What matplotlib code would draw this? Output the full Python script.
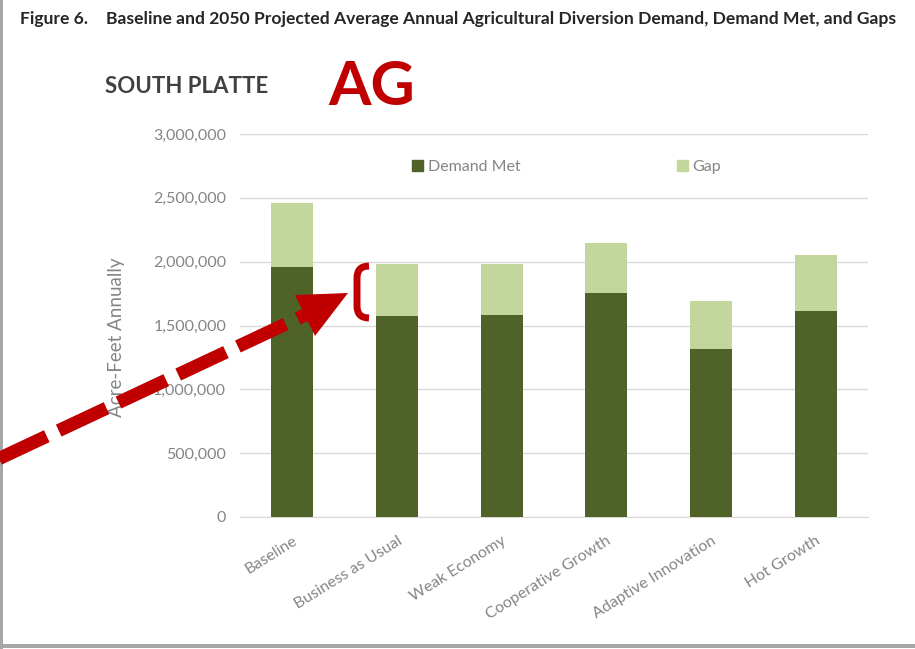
import matplotlib
matplotlib.use("Agg")
import matplotlib.pyplot as plt
from matplotlib.patches import Patch, Polygon, Rectangle, PathPatch
from matplotlib.lines import Line2D
from matplotlib.path import Path
from matplotlib.ticker import FuncFormatter
import numpy as np

plt.rcParams['font.family'] = ['Lato', 'DejaVu Sans']

categories = ["Baseline", "Business as Usual", "Weak Economy",
              "Cooperative Growth", "Adaptive Innovation", "Hot Growth"]
demand_met = [1960000, 1578000, 1580000, 1752000, 1316000, 1613000]
gap = [498000, 402000, 400000, 396000, 374000, 442000]
y_ticks = [0, 500000, 1000000, 1500000, 2000000, 2500000, 3000000]

DARK = "#4f6228"
LIGHT = "#c3d69b"
RED = "#c00000"
GREY_TXT = "#858585"
W, H = 915, 649


def fx(x):
    return x / W


def fy(y):
    return 1 - y / H


fig = plt.figure(figsize=(W / 100, H / 100), dpi=100)
ax = fig.add_axes([fx(240), fy(517), fx(868) - fx(240), fy(134) - fy(517)])

x = np.arange(len(categories))
ax.bar(x, demand_met, width=0.4, color=DARK, zorder=3)
ax.bar(x, gap, width=0.4, bottom=demand_met, color=LIGHT, zorder=3)

ax.set_xlim(-0.5, len(categories) - 0.5)
ax.set_ylim(0, 3000000)
ax.set_yticks(y_ticks)
ax.yaxis.set_major_formatter(FuncFormatter(lambda v, p: f"{int(v):,}"))
ax.grid(axis="y", color="#d9d9d9", linewidth=1, zorder=0)
for s in ["top", "right", "left"]:
    ax.spines[s].set_visible(False)
ax.spines["bottom"].set_color("#d9d9d9")
ax.tick_params(axis="y", length=0, pad=10, labelsize=11.5, labelcolor=GREY_TXT)
ax.tick_params(axis="x", length=0, pad=12, labelsize=11.5, labelcolor=GREY_TXT)
ax.set_xticks(x)
ax.set_xticklabels(categories, rotation=32, ha="right", rotation_mode="anchor")
ax.set_ylabel("Acre-Feet Annually", fontsize=13.5, color=GREY_TXT)
ax.yaxis.set_label_coords(-0.183, 0.47)

handles = [Patch(color=DARK, label="Demand Met"), Patch(color=LIGHT, label="Gap")]
ax.legend(handles=handles, loc="center", bbox_to_anchor=(0.52, 0.914), ncol=2,
          frameon=False, fontsize=11.5, labelcolor=GREY_TXT, handlelength=0.7,
          handleheight=0.7, handletextpad=0.3, columnspacing=9.8)

# headings
fig.text(fx(20), fy(24), "Figure 6.", fontsize=12.6, fontweight="bold", color="#262626")
fig.text(fx(106), fy(24),
         "Baseline and 2050 Projected Average Annual Agricultural Diversion Demand, Demand Met, and Gaps",
         fontsize=12.6, fontweight="bold", color="#262626")
fig.text(fx(105), fy(93), "SOUTH PLATTE", fontsize=16, fontweight="bold", color="#404040")
fig.text(fx(328), fy(105), "AG", fontsize=44, fontweight="bold", color=RED)

# red dashed arrow and bracket
start = (-21, 468)
base = (305, 315)
fig.add_artist(Line2D([fx(start[0]), fx(base[0])], [fy(start[1]), fy(base[1])],
                      transform=fig.transFigure, color=RED, linewidth=9.5,
                      linestyle=(0, (4.0, 1.0)), solid_capstyle="butt",
                      dash_capstyle="butt"))
head = [(348, 293), (295, 295), (315, 336)]
fig.add_artist(Polygon([(fx(a), fy(b)) for a, b in head], closed=True,
                       transform=fig.transFigure, color=RED, linewidth=0))
bracket = Path([(fx(369), fy(266)), (fx(357), fy(266)), (fx(357), fy(278)),
                (fx(357), fy(306)), (fx(357), fy(318)), (fx(369), fy(318))],
               [Path.MOVETO, Path.CURVE3, Path.CURVE3, Path.LINETO, Path.CURVE3, Path.CURVE3])
fig.add_artist(PathPatch(bracket, transform=fig.transFigure, facecolor="none",
                         edgecolor=RED, linewidth=5, capstyle="butt"))

# page border
fig.add_artist(Rectangle((0, 0), fx(2.5), 1, transform=fig.transFigure,
                         color="#a6a6a6", linewidth=0))
fig.add_artist(Rectangle((0, fy(648)), 1, fy(644) - fy(648), transform=fig.transFigure,
                         color="#a6a6a6", linewidth=0))

fig.savefig("out.png", dpi=100)
